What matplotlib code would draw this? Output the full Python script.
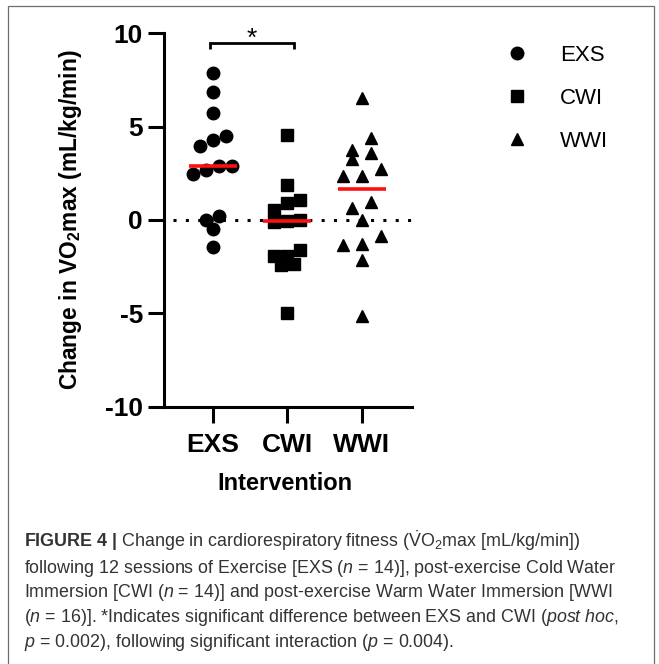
import numpy as np
import matplotlib
matplotlib.use("Agg")
import matplotlib.pyplot as plt
from matplotlib.lines import Line2D
from matplotlib.patches import Rectangle

# ---------------- data ----------------
categories = ["EXS", "CWI", "WWI"]
exs = [7.87, 6.86, 5.73, 4.48, 4.27, 3.98, 2.88, 2.88, 2.66, 2.48, 0.20, 0.02, -0.48, -1.45]
cwi = [4.57, 1.89, 1.09, 0.91, 0.55, 0.00, -0.05, -0.10, -1.59, -1.91, -1.95, -2.34, -2.43, -4.98]
wwi = [6.54, 4.39, 3.77, 3.59, 3.27, 2.75, 2.38, 2.38, 0.95, 0.64, 0.02, -0.88, -1.27, -1.36, -2.13, -5.13]
yticks = [-10, -5, 0, 5, 10]
ytick_labels = ["-10", "-5", "0", "5", "10"]
ylabel = r"Change in VO$_\mathbf{2}$max (mL/kg/min)"
xlabel = "Intervention"
sig_label = "*"
caption = [
    r"$\mathbf{FIGURE\ 4\ |}$ Change in cardiorespiratory fitness ($\dot{\mathrm{V}}\mathrm{O}_{2}$max [mL/kg/min])",
    r"following 12 sessions of Exercise [EXS ($n$ = 14)], post-exercise Cold Water",
    r"Immersion [CWI ($n$ = 14)] and post-exercise Warm Water Immersion [WWI",
    r"($n$ = 16)]. *Indicates significant difference between EXS and CWI ($\mathit{post\ hoc}$,",
    r"$p$ = 0.002), following significant interaction ($p$ = 0.004).",
]

# ---------------- style ----------------
plt.rcParams["font.family"] = ["Liberation Sans", "DejaVu Sans"]
plt.rcParams["mathtext.fontset"] = "custom"
plt.rcParams["mathtext.rm"] = "Liberation Sans"
plt.rcParams["mathtext.it"] = "Liberation Sans:italic"
plt.rcParams["mathtext.bf"] = "Liberation Sans:bold"

W, H = 659, 664
fig = plt.figure(figsize=(W / 100, H / 100), dpi=100)

ax_l, ax_r, ax_t, ax_b = 164, 412, 33.3, 406.7
ax = fig.add_axes([ax_l / W, 1 - ax_b / H, (ax_r - ax_l) / W, (ax_b - ax_t) / H])
ax.set_xlim(-0.654, 2.675)
ax.set_ylim(-10, 10)

for s in ["top", "right"]:
    ax.spines[s].set_visible(False)
for s in ["left", "bottom"]:
    ax.spines[s].set_linewidth(2.2)

ax.set_yticks(yticks)
ax.set_yticklabels(ytick_labels)
ax.set_xticks(range(len(categories)))
ax.set_xticklabels(categories)
ax.tick_params(axis="both", direction="out", length=11.5, width=2.2, labelsize=19)
ax.tick_params(axis="y", pad=3.6)
ax.tick_params(axis="x", pad=7.2)
for lab in ax.get_xticklabels() + ax.get_yticklabels():
    lab.set_fontweight("bold")

ax.set_ylabel(ylabel, fontsize=16.4, fontweight="bold")
ax.yaxis.set_label_coords((84.3 - ax_l) / (ax_r - ax_l), 0.5)
ax.set_xlabel(xlabel, fontsize=17, fontweight="bold")
ax.xaxis.set_label_coords((285 - ax_l) / (ax_r - ax_l), -(472 - ax_b) / (ax_b - ax_t))

# zero reference line
ax.axhline(0, xmin=(173 - ax_l) / (ax_r - ax_l), xmax=1, color="black", lw=2.2,
           linestyle=(0, (1, 3.04)), zorder=1)

# ---------------- scatter offsets: bin rows and centre points in each row ----------------
p0 = ax.transData.transform((0, 0))
p1 = ax.transData.transform((1, 1))
px_x = p1[0] - p0[0]
px_y = p1[1] - p0[1]


def row_spread(values, step_px, bin_px=12.0):
    v = np.asarray(values, float)
    order = np.argsort(-v, kind="stable")
    offs = np.zeros(len(v))
    rows, cur = [], [order[0]]
    for idx in order[1:]:
        if (v[cur[0]] - v[idx]) * px_y < bin_px:
            cur.append(idx)
        else:
            rows.append(cur)
            cur = [idx]
    rows.append(cur)
    for row in rows:
        row = sorted(row, key=lambda j: v[j])  # ascending left to right
        n = len(row)
        for k, j in enumerate(row):
            offs[j] = (k - (n - 1) / 2) * step_px
    return offs / px_x


groups = [exs, cwi, wwi]
markers = ["o", "s", "^"]
msizes = [9, 8.6, 9]
steps = [13, 13, 19]
for i, (vals, mk, ms, st) in enumerate(zip(groups, markers, msizes, steps)):
    xo = i + row_spread(vals, st)
    ax.plot(xo, vals, ls="none", marker=mk, ms=ms, color="black", mec="black",
            zorder=3, clip_on=False)
    med = np.median(vals)
    ax.hlines(med, i - 0.32, i + 0.32, color="#ff1010", lw=2.6, zorder=4)

# significance bracket
ax.plot([-0.036, -0.036, 1.09, 1.09], [9.14, 9.46, 9.46, 9.14], color="black",
        lw=2.0, clip_on=False, solid_joinstyle="miter", solid_capstyle="butt", zorder=5)
ax.text(0.53, 9.35, sig_label, ha="center", va="baseline", fontsize=19, clip_on=False)

# legend
handles = [Line2D([], [], ls="none", marker=m, ms=s, color="black")
           for m, s in zip(markers, msizes)]
fig.legend(handles, categories, loc="upper left",
           bbox_to_anchor=(506 / W, 1 - 45 / H), bbox_transform=fig.transFigure,
           frameon=False, fontsize=16, handlelength=1.0, handletextpad=1.44,
           labelspacing=0.98, borderpad=0, borderaxespad=0)

# frame around figure
fig.add_artist(Rectangle((7.5 / W, -0.02), (654 - 7.5) / W, 1 - 6 / H + 0.02,
                         transform=fig.transFigure, fill=False, ec="#6e6e6e", lw=0.9))

# caption
baselines = [547.3, 572.7, 597.3, 622.3, 647.3]
texts = []
for line, b in zip(caption, baselines):
    t = fig.text(24 / W, 1 - b / H, line, ha="left", va="baseline", fontsize=12,
                 color="#333333")
    texts.append(t)
r = fig.canvas.get_renderer()
w = texts[1].get_window_extent(r).width
fs = 12 * 591 / w
for t in texts:
    t.set_fontsize(fs)

fig.savefig("out.png", dpi=100)
